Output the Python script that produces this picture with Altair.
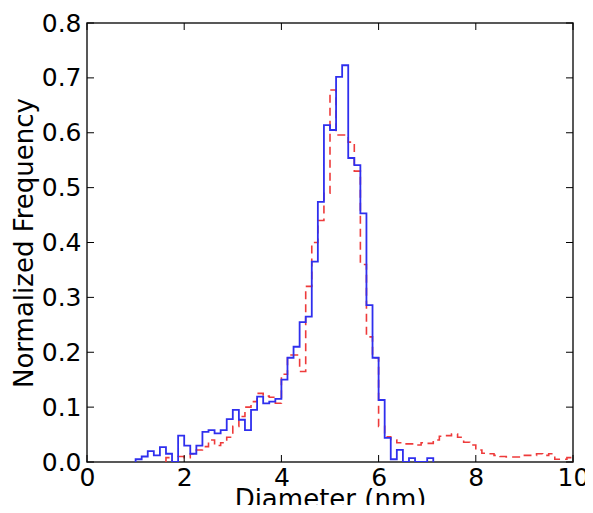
import altair as alt
import pandas as pd

# ---- data (bin width 0.125 nm) ----
BIN_WIDTH = 0.125

blue_start = 1.0
blue_freq = [
    0.005, 0.010, 0.020, 0.012, 0.027, 0.015, 0.000, 0.048,
    0.030, 0.015, 0.030, 0.055, 0.058, 0.052, 0.058, 0.078,
    0.095, 0.077, 0.058, 0.095, 0.119, 0.107, 0.110, 0.115,
    0.150, 0.190, 0.210, 0.255, 0.265, 0.365, 0.474, 0.614,
    0.605, 0.702, 0.723, 0.554, 0.541, 0.453, 0.286, 0.190,
    0.113, 0.044, 0.005, 0.022, 0.000, 0.007, 0.000, 0.000,
    0.007,
]

red_start = 1.625
red_freq = [
    0.008, 0.000, 0.010, 0.008, 0.015, 0.022, 0.028, 0.040,
    0.030, 0.035, 0.045, 0.065, 0.083, 0.100, 0.110, 0.125,
    0.120, 0.118, 0.107, 0.160, 0.195, 0.195, 0.165, 0.320,
    0.400, 0.440, 0.490, 0.678, 0.596, 0.596, 0.583, 0.530,
    0.360, 0.228, 0.190, 0.065, 0.046, 0.040, 0.035, 0.033,
    0.033, 0.031, 0.035, 0.034, 0.040, 0.047, 0.048, 0.051,
    0.045, 0.036, 0.031, 0.022, 0.016, 0.015, 0.012, 0.010,
    0.009, 0.009, 0.009, 0.012, 0.012, 0.015, 0.012, 0.015,
    0.005, 0.005, 0.008,
]

x_ticks = [0, 2, 4, 6, 8, 10]
y_ticks = [0.0, 0.1, 0.2, 0.3, 0.4, 0.5, 0.6, 0.7, 0.8]

X_DOMAIN = [0, 10]
Y_DOMAIN = [0, 0.8]
FONT = "DejaVu Sans"


def step_frame(start, vals):
    rows = [(start, 0.0)]
    for i, v in enumerate(vals):
        rows.append((start + i * BIN_WIDTH, v))
    end = start + len(vals) * BIN_WIDTH
    rows.append((end, vals[-1]))
    rows.append((end, 0.0))
    return pd.DataFrame(
        {"d": [r[0] for r in rows], "f": [r[1] for r in rows], "o": list(range(len(rows)))}
    )


blue_df = step_frame(blue_start, blue_freq)
red_df = step_frame(red_start, red_freq)

xs = alt.Scale(domain=X_DOMAIN, nice=False, zero=False)
ys = alt.Scale(domain=Y_DOMAIN, nice=False)

x_axis = alt.Axis(
    values=x_ticks, format="d", tickSize=0, domain=False, grid=False,
    labelFontSize=25, labelFont=FONT, labelColor="black", labelPadding=3,
    labelFlush=False, labelOverlap=False,
    title="Diameter (nm)", titleFontSize=26, titleFont=FONT,
    titleFontWeight="normal", titleColor="black", titlePadding=-4,
)
y_axis = alt.Axis(
    values=y_ticks, format=".1f", tickSize=0, domain=False, grid=False,
    labelFontSize=25, labelFont=FONT, labelColor="black", labelPadding=6,
    labelFlush=False, labelOverlap=False,
    title="Normalized Frequency", titleFontSize=26, titleFont=FONT,
    titleFontWeight="normal", titleColor="black", titlePadding=4,
)

red_line = alt.Chart(red_df).mark_line(
    interpolate="step-after", color="#ee3b3b", strokeWidth=1.6, strokeDash=[8, 5], clip=True
).encode(
    x=alt.X("d:Q", scale=xs, axis=x_axis),
    y=alt.Y("f:Q", scale=ys, axis=y_axis),
    order="o:Q",
)

blue_line = alt.Chart(blue_df).mark_line(
    interpolate="step-after", color="#2f2fee", strokeWidth=1.8, clip=True
).encode(
    x=alt.X("d:Q", scale=xs),
    y=alt.Y("f:Q", scale=ys),
    order="o:Q",
)

H = 439
W = 486
TICK = 7
xt_df = pd.DataFrame({"t": x_ticks})
yt_df = pd.DataFrame({"t": y_ticks})

xt_bottom = alt.Chart(xt_df).mark_rule(color="black", strokeWidth=1).encode(
    x=alt.X("t:Q", scale=xs), y=alt.value(H), y2=alt.value(H - TICK)
)
xt_top = alt.Chart(xt_df).mark_rule(color="black", strokeWidth=1).encode(
    x=alt.X("t:Q", scale=xs), y=alt.value(0), y2=alt.value(TICK)
)
yt_left = alt.Chart(yt_df).mark_rule(color="black", strokeWidth=1).encode(
    y=alt.Y("t:Q", scale=ys), x=alt.value(0), x2=alt.value(TICK)
)
yt_right = alt.Chart(yt_df).mark_rule(color="black", strokeWidth=1).encode(
    y=alt.Y("t:Q", scale=ys), x=alt.value(W), x2=alt.value(W - TICK)
)

chart = alt.layer(
    red_line, blue_line, xt_bottom, xt_top, yt_left, yt_right
).properties(
    width=W, height=H,
    padding={"left": 79, "top": 15, "right": 12, "bottom": 43},
    autosize=alt.AutoSizeParams(type="none"),
    background="white",
).configure_view(
    stroke="#222222", strokeWidth=1.5
)

chart.save("out.html", embed_options={"renderer": "svg", "actions": False})
